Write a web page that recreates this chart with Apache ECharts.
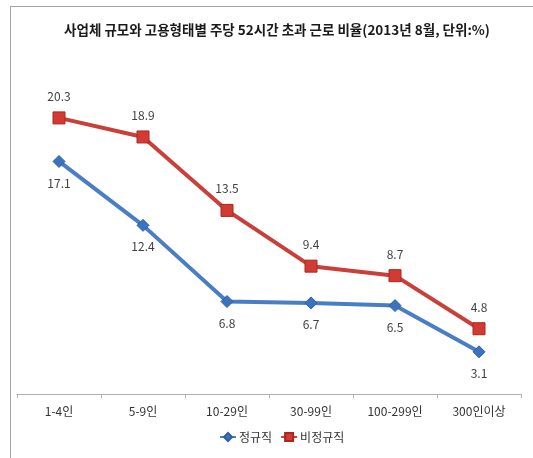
<!DOCTYPE html>
<html>
<head>
<meta charset="utf-8">
<script src="https://cdn.jsdelivr.net/npm/echarts@6/dist/echarts.min.js"></script>
<style>
  html, body { margin: 0; padding: 0; background: #fff; }
  #wrap { position: relative; width: 533px; height: 458px; }
  #frame {
    position: absolute; left: 10px; top: 6px; right: -2px; bottom: -2px;
    border-left: 1px solid #a6a6a6; border-top: 1px solid #a6a6a6;
  }
  #chart { position: absolute; left: 0; top: 0; width: 533px; height: 458px; }
</style>
</head>
<body>
<div id="wrap">
  <div id="frame"></div>
  <div id="chart"></div>
</div>
<script>
// 사업체 규모 구분
const categories = ["1-4인", "5-9인", "10-29인", "30-99인", "100-299인", "300인이상"];
// 정규직 (%)
const regularValues = [17.1, 12.4, 6.8, 6.7, 6.5, 3.1];
// 비정규직 (%)
const irregularValues = [20.3, 18.9, 13.5, 9.4, 8.7, 4.8];

const font = '"Noto Sans CJK KR", "Noto Sans", sans-serif';

const chart = echarts.init(document.getElementById("chart"));
chart.setOption({
  animation: false,
  textStyle: { fontFamily: font },
  title: {
    text: "사업체 규모와 고용형태별 주당 52시간 초과 근로 비율(2013년 8월, 단위:%)",
    left: 272,
    textAlign: "center",
    top: 18,
    textStyle: { fontFamily: font, fontSize: 13.5, fontWeight: "bold", color: "#1a1a1a" },
  },
  legend: {
    bottom: 10,
    left: 214,
    itemGap: 8,
    itemWidth: 16,
    itemHeight: 10,
    textStyle: { fontFamily: font, fontSize: 12, color: "#333", padding: [0, 0, 0, -2] },
    data: ["정규직", "비정규직"],
  },
  grid: { left: 17, right: 12, top: 54, bottom: 64 },
  xAxis: {
    type: "category",
    data: categories,
    boundaryGap: true,
    axisLine: { lineStyle: { color: "#b0b0b0", width: 1 } },
    axisTick: { show: true, length: 4, lineStyle: { color: "#b0b0b0" } },
    axisLabel: { margin: 11, fontSize: 12, color: "#333", fontFamily: font },
  },
  yAxis: {
    type: "value",
    min: 0,
    max: 25,
    show: false,
    splitLine: { show: false },
  },
  series: [
    {
      name: "정규직",
      type: "line",
      data: regularValues,
      symbol: "diamond",
      symbolSize: 12,
      lineStyle: { color: "#4a7ec4", width: 4 },
      itemStyle: { color: "#3b73c0", borderColor: "#2f5f9f", borderWidth: 1 },
      label: {
        show: true,
        position: "bottom",
        distance: 9,
        fontSize: 12,
        color: "#404040",
        fontFamily: font,
      },
    },
    {
      name: "비정규직",
      type: "line",
      data: irregularValues,
      symbol: "rect",
      symbolSize: 12,
      lineStyle: { color: "#c9403b", width: 4 },
      itemStyle: { color: "#d33a33", borderColor: "#a8281f", borderWidth: 1 },
      label: {
        show: true,
        position: "top",
        distance: 9,
        fontSize: 12,
        color: "#404040",
        fontFamily: font,
      },
    },
  ],
});
</script>
</body>
</html>
